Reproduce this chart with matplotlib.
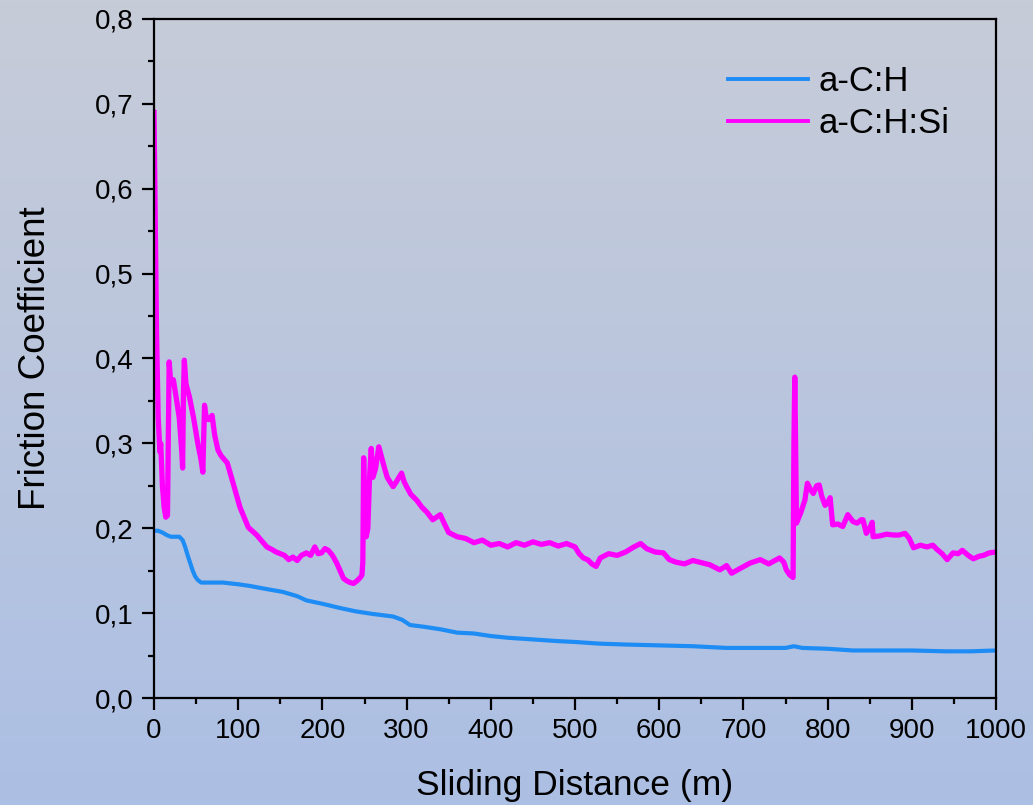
import numpy as np
import matplotlib.pyplot as plt
from matplotlib.ticker import MultipleLocator

# a-C:H:Si friction curve
si_dist = [0, 1, 2, 3, 5, 7, 8, 10, 12, 14, 16, 17, 18, 20, 23, 27, 30, 33, 34, 35,
           36, 38, 42, 47, 52, 56, 58, 60, 62, 65, 69, 72, 76, 80, 87, 94, 102, 112,
           122, 128, 134, 140, 145, 150, 155, 160, 165, 170, 175, 181, 186, 191, 195,
           199, 203, 207, 212, 217, 221, 225, 229, 233, 237, 241, 245, 247, 248, 249,
           250, 252, 254, 256, 258, 260, 263, 267, 270, 274, 277, 280, 284, 288, 294,
           297, 300, 305, 312, 318, 324, 331, 340, 345, 350, 360, 370, 380, 390, 400,
           410, 420, 430, 440, 450, 460, 470, 480, 490, 500, 505, 510, 515, 520, 525,
           530, 540, 550, 560, 570, 578, 585, 595, 605, 612, 620, 630, 640, 648, 660,
           672, 680, 686, 695, 708, 720, 730, 743, 748, 751, 755, 759, 760, 761, 762,
           763, 768, 773, 776, 780, 783, 787, 790, 793, 797, 800, 803, 805, 806, 812,
           818, 824, 830, 835, 840, 842, 846, 850, 853, 854, 862, 870, 878, 885, 892,
           897, 902, 910, 918, 925, 930, 936, 942, 949, 955, 960, 967, 973, 980, 985,
           992, 1000]
si_cof = [0.69, 0.60, 0.50, 0.43, 0.33, 0.29, 0.30, 0.25, 0.225, 0.213, 0.215, 0.30,
          0.396, 0.37, 0.375, 0.35, 0.33, 0.29, 0.271, 0.36, 0.398, 0.37, 0.355, 0.33,
          0.30, 0.28, 0.266, 0.345, 0.33, 0.328, 0.333, 0.31, 0.292, 0.285, 0.277,
          0.253, 0.225, 0.201, 0.192, 0.185, 0.178, 0.175, 0.172, 0.170, 0.168, 0.163,
          0.166, 0.162, 0.168, 0.171, 0.168, 0.178, 0.170, 0.171, 0.176, 0.174, 0.168,
          0.159, 0.150, 0.141, 0.138, 0.136, 0.135, 0.138, 0.142, 0.145, 0.160, 0.283,
          0.23, 0.19, 0.20, 0.26, 0.294, 0.26, 0.27, 0.296, 0.285, 0.27, 0.26, 0.255,
          0.249, 0.255, 0.265, 0.255, 0.249, 0.24, 0.233, 0.225, 0.219, 0.21, 0.216,
          0.205, 0.195, 0.19, 0.188, 0.183, 0.186, 0.18, 0.182, 0.178, 0.183, 0.18,
          0.184, 0.181, 0.183, 0.179, 0.182, 0.178, 0.17, 0.165, 0.163, 0.158, 0.155,
          0.165, 0.17, 0.168, 0.172, 0.178, 0.182, 0.176, 0.172, 0.171, 0.163, 0.16,
          0.158, 0.162, 0.16, 0.157, 0.151, 0.156, 0.147, 0.152, 0.159, 0.163, 0.158,
          0.165, 0.16, 0.151, 0.145, 0.142, 0.30, 0.378, 0.30, 0.206, 0.218, 0.233,
          0.253, 0.245, 0.241, 0.25, 0.251, 0.238, 0.227, 0.23, 0.236, 0.215, 0.204,
          0.205, 0.202, 0.216, 0.208, 0.206, 0.21, 0.21, 0.194, 0.20, 0.207, 0.19,
          0.191, 0.193, 0.192, 0.192, 0.194, 0.188, 0.177, 0.180, 0.178, 0.18, 0.175,
          0.17, 0.163, 0.171, 0.17, 0.174, 0.168, 0.164, 0.167, 0.168, 0.171, 0.172]

# a-C:H friction curve
h_dist = [0, 5, 10, 15, 20, 25, 30, 34, 37, 40, 43, 46, 49, 52, 56, 70, 82, 100, 114,
          130, 153, 170, 181, 200, 221, 240, 260, 284, 295, 304, 320, 340, 360, 380,
          400, 420, 450, 480, 500, 530, 560, 600, 640, 680, 720, 750, 760, 770, 800,
          830, 860, 900, 940, 970, 1000]
h_cof = [0.197, 0.197, 0.195, 0.192, 0.19, 0.19, 0.19, 0.186, 0.178, 0.168, 0.159,
         0.15, 0.143, 0.139, 0.136, 0.136, 0.136, 0.134, 0.132, 0.129, 0.125, 0.12,
         0.115, 0.111, 0.106, 0.102, 0.099, 0.096, 0.092, 0.086, 0.084, 0.081, 0.077,
         0.076, 0.073, 0.071, 0.069, 0.067, 0.066, 0.064, 0.063, 0.062, 0.061, 0.059,
         0.059, 0.059, 0.061, 0.059, 0.058, 0.056, 0.056, 0.056, 0.055, 0.055, 0.056]

y_ticks = [0.0, 0.1, 0.2, 0.3, 0.4, 0.5, 0.6, 0.7, 0.8]
y_labels = ['0,0', '0,1', '0,2', '0,3', '0,4', '0,5', '0,6', '0,7', '0,8']
x_ticks = [0, 100, 200, 300, 400, 500, 600, 700, 800, 900, 1000]

plt.rcParams['font.family'] = ['Liberation Sans', 'DejaVu Sans']

fig = plt.figure(figsize=(10.33, 8.05), dpi=100)

# gradient background over the whole figure
bg = fig.add_axes([0, 0, 1, 1], zorder=-1)
top = np.array([199, 204, 216]) / 255
bot = np.array([172, 191, 228]) / 255
t = np.linspace(0, 1, 256)[:, None]
grad = top * (1 - t) + bot * t
bg.imshow(grad[:, None, :], aspect='auto', extent=[0, 1, 0, 1])
bg.axis('off')

ax = fig.add_axes([154 / 1033, 1 - 698 / 805, 842 / 1033, 679 / 805])
ax.patch.set_alpha(0)

ax.plot(h_dist, h_cof, color='#1E8CF5', lw=3.0, label='a-C:H', solid_joinstyle='round')
ax.plot(si_dist, si_cof, color='#FF00FF', lw=3.8, label='a-C:H:Si', solid_joinstyle='round')

ax.set_xlim(0, 1000)
ax.set_ylim(0, 0.8)
ax.set_xticks(x_ticks)
ax.set_yticks(y_ticks)
ax.set_yticklabels(y_labels)
ax.xaxis.set_minor_locator(MultipleLocator(50))
ax.yaxis.set_minor_locator(MultipleLocator(0.05))
ax.tick_params(which='major', direction='out', length=8.5, width=1.6, labelsize=20, pad=6)
ax.tick_params(which='minor', direction='out', length=4.5, width=1.6)
for s in ax.spines.values():
    s.set_linewidth(1.6)

ax.set_xlabel('Sliding Distance (m)', fontsize=25.5, labelpad=18)
ax.set_ylabel('Friction Coefficient', fontsize=26.5, labelpad=30)

leg = ax.legend(loc='upper left', bbox_to_anchor=(0.682, 0.932), frameon=False,
                fontsize=25, handlelength=2.3, handletextpad=0.3, labelspacing=0.25,
                borderpad=0, borderaxespad=0)
for line in leg.get_lines():
    line.set_linewidth(2.8)

fig.savefig('out.png', dpi=100)
